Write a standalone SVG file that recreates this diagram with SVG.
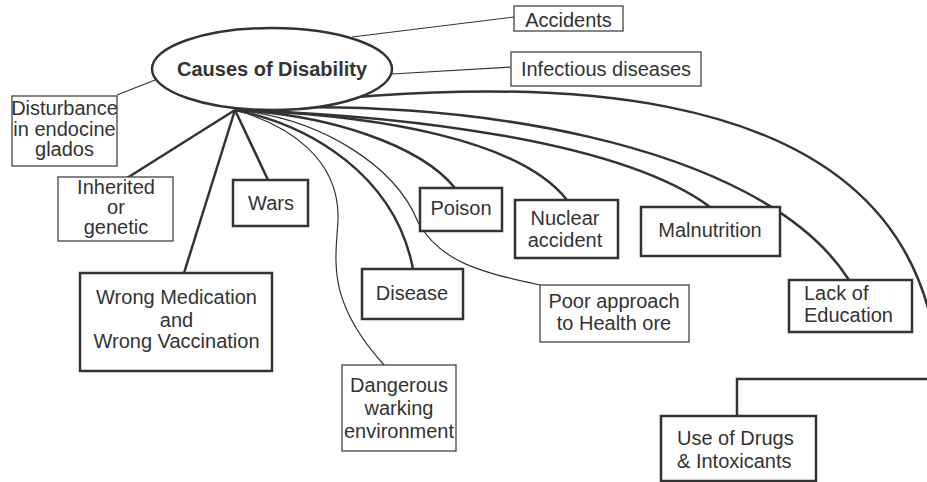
<svg xmlns="http://www.w3.org/2000/svg" width="927" height="482" viewBox="0 0 927 482">
<style>
text{font-family:"Liberation Sans",Arial,sans-serif;fill:#333;font-size:20px;text-anchor:middle}
.l{text-anchor:start}
.bt{fill:#fff;stroke:#333;stroke-width:2.5}
.bn{fill:#fff;stroke:#444;stroke-width:1.3}
.ct{fill:none;stroke:#333;stroke-width:2.5}
.cn{fill:none;stroke:#333;stroke-width:1.2}
</style>
<rect width="927" height="482" fill="#fff"/>
<g id="connectors">
<line class="cn" x1="352" y1="37" x2="514" y2="17"/>
<line class="cn" x1="392" y1="74" x2="511" y2="67"/>
<line class="cn" x1="117" y1="95" x2="155" y2="80"/>
<line class="ct" x1="235" y1="110" x2="127" y2="178"/>
<line class="ct" x1="235" y1="110" x2="268" y2="180"/>
<line class="ct" x1="235" y1="110" x2="184" y2="273"/>
<path class="cn" d="M235,110 C290,125 340,160 338,220 C336,260 325,300 385,366"/>
<path class="ct" d="M235,110 C310,125 395,175 413,269"/>
<path class="cn" d="M235,110 C320,118 395,165 418,222 C440,262 480,272 540,285"/>
<path class="ct" d="M235,110 C330,115 420,145 455,188"/>
<path class="ct" d="M235,110 C380,115 520,140 567,200"/>
<path class="ct" d="M235,110 C400,115 620,140 710,207"/>
<path class="ct" d="M235,110 C450,95 760,140 849,280"/>
<path class="ct" d="M235,110 C500,75 890,60 935,340"/>
<polyline class="ct" points="935,379 737,379 737,416"/>
</g>
<g id="causes">
<ellipse cx="272" cy="69" rx="120" ry="41" fill="#fff" stroke="#333" stroke-width="2.5"/>
<text x="272" y="76" font-weight="bold" font-size="20.5">Causes of Disability</text>
</g>
<g id="accidents">
<rect class="bn" x="514" y="6" width="109" height="25"/>
<text x="568.5" y="26.5" font-size="21">Accidents</text>
</g>
<g id="infectious">
<rect class="bn" x="511" y="52" width="190" height="34"/>
<text x="606" y="76" font-size="21">Infectious diseases</text>
</g>
<g id="disturbance">
<rect class="bn" x="12" y="96" width="105" height="70"/>
<text x="64.5" y="115" font-size="17.8">Disturbance</text>
<text x="64.5" y="136" font-size="17.8">in endocine</text>
<text x="64.5" y="156" font-size="17.8">glados</text>
</g>
<g id="inherited">
<rect class="bn" x="58" y="177" width="115" height="64"/>
<text x="116" y="194" font-size="17">Inherited</text>
<text x="116" y="214" font-size="17">or</text>
<text x="116" y="234" font-size="17">genetic</text>
</g>
<g id="wars">
<rect class="bt" x="233" y="180" width="75" height="46"/>
<text x="271" y="210">Wars</text>
</g>
<g id="wrong-medication">
<rect class="bt" x="80" y="273" width="192" height="98"/>
<text x="176.5" y="304">Wrong Medication</text>
<text x="176.5" y="327">and</text>
<text x="176.5" y="348">Wrong Vaccination</text>
</g>
<g id="dangerous">
<rect class="bn" x="342" y="365" width="114" height="86"/>
<text x="399" y="392" font-size="19">Dangerous</text>
<text x="399" y="415" font-size="19">warking</text>
<text x="399" y="438" font-size="19">environment</text>
</g>
<g id="disease">
<rect class="bt" x="362" y="269" width="101" height="50"/>
<text x="412" y="300">Disease</text>
</g>
<g id="poison">
<rect class="bt" x="420" y="188" width="82" height="43"/>
<text x="461" y="215">Poison</text>
</g>
<g id="nuclear">
<rect class="bt" x="515" y="200" width="103" height="58"/>
<text x="565" y="225">Nuclear</text>
<text x="565" y="247">accident</text>
</g>
<g id="poor-approach">
<rect class="bn" x="540" y="285" width="149" height="57"/>
<text x="614" y="308">Poor approach</text>
<text x="614" y="330">to Health ore</text>
</g>
<g id="malnutrition">
<rect class="bt" x="641" y="207" width="139" height="49"/>
<text x="710" y="237">Malnutrition</text>
</g>
<g id="lack-of-education">
<rect class="bt" x="789" y="280" width="123" height="52"/>
<text class="l" x="804" y="300">Lack of</text>
<text class="l" x="804" y="322">Education</text>
</g>
<g id="drugs">
<rect class="bt" x="661" y="416" width="155" height="65"/>
<text class="l" x="677" y="445" font-size="20.5">Use of Drugs</text>
<text class="l" x="677" y="468" font-size="20.5">&amp; Intoxicants</text>
</g>
</svg>
